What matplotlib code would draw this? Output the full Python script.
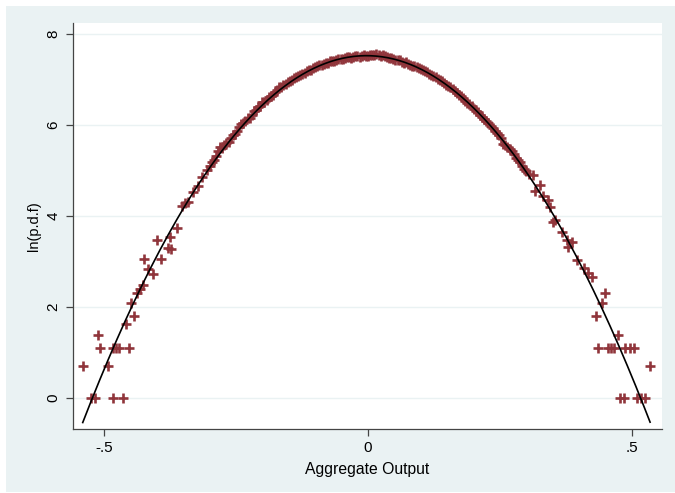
import numpy as np
import matplotlib
matplotlib.use("Agg")
import matplotlib.pyplot as plt
from matplotlib.patches import Rectangle

plt.rcParams['font.family'] = ['Liberation Sans', 'DejaVu Sans']

# --- ln of the histogram density, left tail / centre / right tail ---
x_left = [-0.540, -0.525, -0.517, -0.482, -0.464, -0.492, -0.512, -0.507,
          -0.482, -0.477, -0.472, -0.453, -0.458, -0.443, -0.449, -0.438,
          -0.432, -0.426, -0.424, -0.416, -0.407, -0.391, -0.400, -0.378,
          -0.372, -0.375, -0.362, -0.353, -0.346, -0.340, -0.331, -0.321,
          -0.315]
y_left = [0.693, 0.0, 0.0, 0.0, 0.0, 0.693, 1.386, 1.099,
          1.099, 1.099, 1.099, 1.099, 1.609, 1.792, 2.079, 2.303,
          2.398, 2.485, 3.045, 2.833, 2.708, 3.045, 3.466, 3.296,
          3.258, 3.526, 3.738, 4.220, 4.280, 4.300, 4.520, 4.650,
          4.840]

x_mid = [-0.304, -0.296, -0.288, -0.280, -0.272, -0.264, -0.256, -0.248,
         -0.240, -0.232, -0.224, -0.216, -0.208, -0.200, -0.192, -0.184,
         -0.176, -0.168, -0.160, -0.152, -0.144, -0.136, -0.128, -0.120,
         -0.112, -0.104, -0.096, -0.088, -0.080, -0.072, -0.064, -0.056,
         -0.048, -0.040, -0.032, -0.024, -0.016, -0.008, 0.000, 0.008,
         0.016, 0.024, 0.032, 0.040, 0.048, 0.056, 0.064, 0.072,
         0.080, 0.088, 0.096, 0.104, 0.112, 0.120, 0.128, 0.136,
         0.144, 0.152, 0.160, 0.168, 0.176, 0.184, 0.192, 0.200,
         0.208, 0.216, 0.224, 0.232, 0.240, 0.248, 0.256, 0.264,
         0.272, 0.280, 0.288, 0.296, 0.304]
y_mid = [5.00, 5.18, 5.30, 5.50, 5.55, 5.62, 5.78, 5.86,
         6.02, 6.08, 6.15, 6.30, 6.38, 6.50, 6.55, 6.62,
         6.72, 6.82, 6.86, 6.93, 6.98, 7.04, 7.10, 7.14,
         7.20, 7.24, 7.28, 7.30, 7.35, 7.39, 7.40, 7.44,
         7.45, 7.48, 7.47, 7.50, 7.49, 7.52, 7.50, 7.53,
         7.55, 7.51, 7.50, 7.47, 7.45, 7.43, 7.38, 7.37,
         7.31, 7.28, 7.25, 7.20, 7.15, 7.10, 7.04, 6.99,
         6.92, 6.84, 6.78, 6.70, 6.62, 6.52, 6.45, 6.34,
         6.28, 6.17, 6.08, 5.98, 5.85, 5.78, 5.58, 5.50,
         5.42, 5.26, 5.18, 5.02, 4.92]

# the in-between bins of the centre
x_mid2 = [-0.300, -0.292, -0.284, -0.276, -0.268, -0.260, -0.252, -0.244,
          -0.236, -0.228, -0.220, -0.212, -0.204, -0.196, -0.188, -0.180,
          -0.172, -0.164, -0.156, -0.148, -0.140, -0.132, -0.124, -0.116,
          -0.108, -0.100, -0.092, -0.084, -0.076, -0.068, -0.060, -0.052,
          -0.044, -0.036, -0.028, -0.020, -0.012, -0.004, 0.004, 0.012,
          0.020, 0.028, 0.036, 0.044, 0.052, 0.060, 0.068, 0.076,
          0.084, 0.092, 0.100, 0.108, 0.116, 0.124, 0.132, 0.140,
          0.148, 0.156, 0.164, 0.172, 0.180, 0.188, 0.196, 0.204,
          0.212, 0.220, 0.228, 0.236, 0.244, 0.252, 0.260, 0.268,
          0.276, 0.284, 0.292, 0.300]
y_mid2 = [5.10, 5.22, 5.42, 5.48, 5.60, 5.70, 5.80, 5.95,
          6.03, 6.14, 6.22, 6.33, 6.42, 6.50, 6.60, 6.66,
          6.76, 6.82, 6.90, 6.95, 7.02, 7.06, 7.12, 7.18,
          7.21, 7.27, 7.30, 7.33, 7.36, 7.40, 7.42, 7.44,
          7.47, 7.49, 7.48, 7.51, 7.50, 7.51, 7.52, 7.54,
          7.52, 7.52, 7.48, 7.46, 7.43, 7.41, 7.36, 7.34,
          7.29, 7.27, 7.22, 7.17, 7.12, 7.07, 7.01, 6.95,
          6.88, 6.82, 6.73, 6.66, 6.58, 6.48, 6.40, 6.31,
          6.22, 6.12, 6.04, 5.92, 5.82, 5.70, 5.55, 5.46,
          5.36, 5.22, 5.10, 4.98]

x_right = [0.313, 0.326, 0.316, 0.332, 0.341, 0.345, 0.351, 0.354,
           0.367, 0.376, 0.386, 0.379, 0.395, 0.408, 0.417, 0.424,
           0.449, 0.443, 0.431, 0.474, 0.435, 0.455, 0.460, 0.465,
           0.487, 0.496, 0.504, 0.534, 0.477, 0.485, 0.509, 0.517,
           0.525]
y_right = [4.89, 4.67, 4.53, 4.43, 4.35, 4.18, 3.87, 3.91,
           3.65, 3.47, 3.41, 3.31, 3.03, 2.84, 2.73, 2.66,
           2.303, 2.079, 1.792, 1.386, 1.099, 1.099, 1.099, 1.099,
           1.099, 1.099, 1.099, 0.693, 0.0, 0.0, 0.0, 0.0,
           0.0]

x_vals = np.array(x_left + x_mid + x_mid2 + x_right)
y_vals = np.array(y_left + y_mid + y_mid2 + y_right)

# quadratic fit over the data range (like Stata qfit)
coef = np.polyfit(x_vals, y_vals, 2)
x_fit = np.linspace(x_vals.min(), x_vals.max(), 200)
y_fit = np.polyval(coef, x_fit)

fig = plt.figure(figsize=(6.75, 4.93), dpi=100)
# light graph region behind the white plot region
fig.patches.append(Rectangle((6 / 675, 1 / 493), 1.0, 486 / 493,
                             transform=fig.transFigure, facecolor='#eaf2f3',
                             edgecolor='none', zorder=-10))
ax = fig.add_axes([72.7 / 675, 1 - 429 / 493, 589 / 675, 406.3 / 493])
ax.set_zorder(1)
ax.set_facecolor('white')

ax.scatter(x_vals, y_vals, marker='+', s=42, linewidths=1.9,
           color='#90353b', zorder=2)
ax.plot(x_fit, y_fit, color='black', lw=1.2, zorder=3)

ax.set_xlim(-0.559, 0.556)
ax.set_ylim(-0.69, 8.24)
ax.set_xticks([-0.5, 0, 0.5])
ax.set_xticklabels(['-.5', '0', '.5'])
ax.set_yticks([0, 2, 4, 6, 8])
ax.set_yticklabels(['0', '2', '4', '6', '8'], rotation=90, va='center')
ax.grid(axis='y', color='#eaf2f3', lw=1.0, zorder=0)
ax.set_axisbelow(True)

for side in ['top', 'right']:
    ax.spines[side].set_visible(False)
for side in ['left', 'bottom']:
    ax.spines[side].set_color('#444444')
    ax.spines[side].set_linewidth(0.9)
ax.tick_params(colors='#444444', labelcolor='black', length=5, width=0.9,
               labelsize=11, pad=4)

ax.set_xlabel('Aggregate Output', fontsize=11.3, labelpad=5)
ax.set_ylabel('ln(p.d.f)', fontsize=10.5, labelpad=4)

fig.savefig('out.png', dpi=100)
